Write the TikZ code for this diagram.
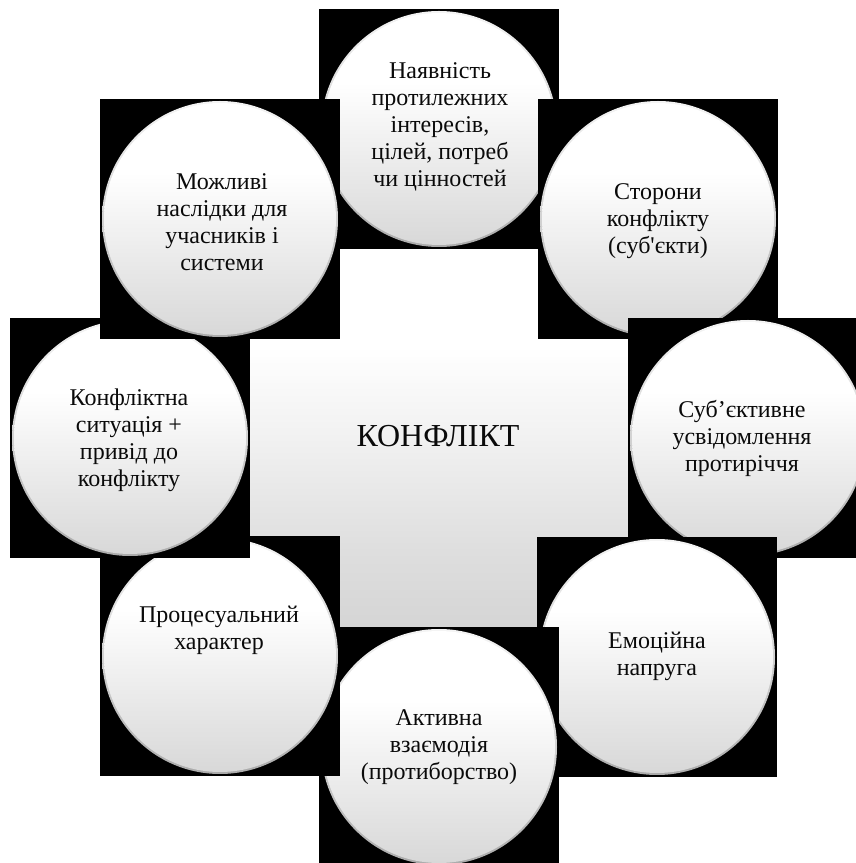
\documentclass[tikz,border=0pt]{standalone}
\usepackage{fontspec}
\setmainfont{Liberation Serif}[Ligatures=TeXOff]
\usetikzlibrary{calc}
\definecolor{crossB}{HTML}{D5D5D5}
\definecolor{crossL}{HTML}{DEDEDE}
\definecolor{crossM}{HTML}{F1F1F1}
\definecolor{ballB}{HTML}{D8D8D8}
\definecolor{ballM}{HTML}{EEEEEE}
\definecolor{rimB}{HTML}{ABABAB}
\definecolor{rimM}{HTML}{D2D2D2}
\definecolor{rimT}{HTML}{F4F4F4}
\definecolor{txt}{HTML}{0A0A0A}
\pgfdeclareverticalshading{crossshade}{100bp}{color(0bp)=(crossB); color(25bp)=(crossB); color(35bp)=(crossL); color(50bp)=(crossM); color(62bp)=(white); color(100bp)=(white)}
\pgfdeclareverticalshading{ballshade}{100bp}{color(0bp)=(ballB); color(25bp)=(ballB); color(45bp)=(ballM); color(60bp)=(white); color(100bp)=(white)}
\pgfdeclareverticalshading{rimshade}{100bp}{color(0bp)=(rimB); color(25bp)=(rimB); color(50bp)=(rimM); color(75bp)=(rimT); color(100bp)=(rimT)}
\tikzset{
  backsq/.style={fill=black},
  rimring/.style={shading=rimshade},
  ball/.style={circle, minimum size=232pt, inner sep=0pt, shading=ballshade},
  balltext/.style={align=center, text=txt, font=\fontsize{24}{27}\selectfont, inner sep=0pt},
  hubtext/.style={text=txt, font=\fontsize{32}{36}\selectfont, inner sep=0pt}
}
\newcommand{\bubble}[2]{%
  \fill[backsq] ($(#1)+(-120,-120)$) rectangle ($(#1)+(120,120)$);
  \shade[rimring] (#1) circle (118);
  \node[ball] (#2) at (#1) {};
}
\begin{document}
\begin{tikzpicture}[x=1pt,y=1pt]
\useasboundingbox (0,0) rectangle (856,863);
% central cross
\shade[shading=crossshade] (340,615) -- (538,615) -- (538,524) -- (628,524) -- (628,326) -- (538,326) -- (538,236) -- (340,236) -- (340,326) -- (248,326) -- (248,524) -- (340,524) -- cycle;
\node[hubtext] (hub) at (438,427) {КОНФЛІКТ};
% circle centres
\coordinate (p1) at (439,734);
\coordinate (p2) at (658,644);
\coordinate (p3) at (748,425);
\coordinate (p4) at (657,206);
\coordinate (p5) at (439,116);
\coordinate (p6) at (220,207);
\coordinate (p7) at (130,425);
\coordinate (p8) at (220,644);
\bubble{p1}{c1}
\node[balltext] (t1) at (440,736) {Наявність\\протилежних\\інтересів,\\цілей, потреб\\чи цінностей};
\bubble{p2}{c2}
\node[balltext] (t2) at (658,642) {Сторони\\конфлікту\\(суб'єкти)};
\bubble{p3}{c3}
\node[balltext] (t3) at (742,425) {Суб’єктивне\\усвідомлення\\протиріччя};
\bubble{p4}{c4}
\node[balltext] (t4) at (657,207) {Емоційна\\напруга};
\bubble{p5}{c5}
\node[balltext] (t5) at (439,116) {Активна\\взаємодія\\(протиборство)};
\bubble{p6}{c6}
\node[balltext] (t6) at (219,233) {Процесуальний\\характер};
\bubble{p7}{c7}
\node[balltext] (t7) at (129,423) {Конфліктна\\ситуація +\\привід до\\конфлікту};
\bubble{p8}{c8}
\node[balltext] (t8) at (222,641) {Можливі\\наслідки для\\учасників і\\системи};
\end{tikzpicture}
\end{document}
